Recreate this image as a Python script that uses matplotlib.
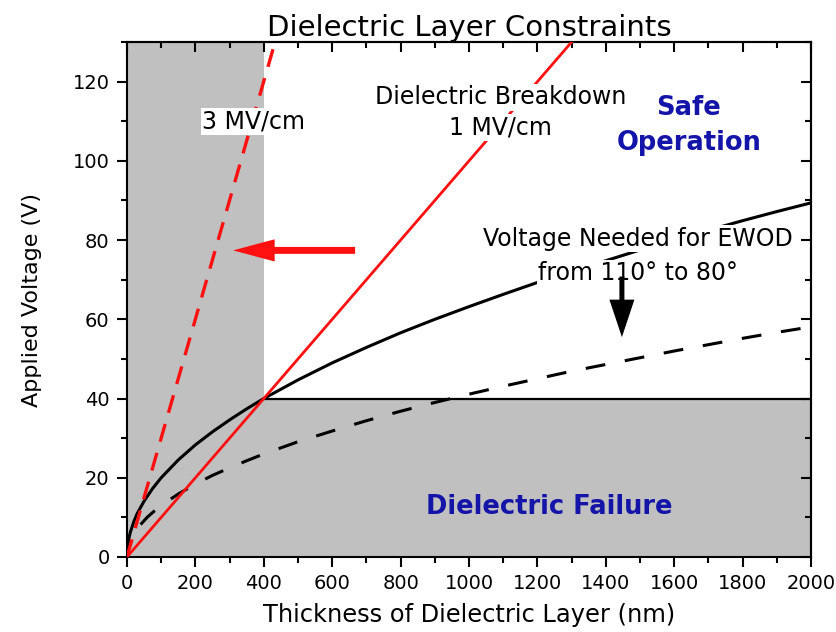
import matplotlib
matplotlib.use('Agg')
import matplotlib.pyplot as plt
from matplotlib.ticker import MultipleLocator

# ---- data (thickness in nm, voltage in V) ----
# dielectric breakdown lines
bd_1mv_thk = [0, 1300]
bd_1mv_volt = [0, 130]
bd_3mv_thk = [0, 433]
bd_3mv_volt = [0, 130]

# voltage needed for EWOD, 110 deg contact angle (solid)
ewod_thk = [0, 2, 5, 10, 20, 30, 50, 75, 100, 150, 200, 250, 300, 350, 400,
            500, 600, 700, 800, 900, 1000, 1100, 1200, 1300, 1400, 1500,
            1600, 1700, 1800, 1900, 2000]
ewod_volt = [0, 2.8, 4.5, 6.3, 8.9, 11.0, 14.1, 17.3, 20.0, 24.5, 28.3, 31.6, 34.6, 37.4, 40.0,
             44.7, 49.0, 52.9, 56.6, 60.0, 63.2, 66.3, 69.3, 72.1, 74.8, 77.5,
             80.0, 82.5, 84.9, 87.2, 89.4]

# voltage needed for EWOD, 80 deg contact angle (dashed)
ewod80_thk = [40, 60, 80, 100, 150, 200, 250, 300, 350, 400, 500, 600, 700, 800,
              900, 1000, 1100, 1200, 1300, 1400, 1500, 1600, 1700, 1800, 1900, 2000]
ewod80_volt = [8.2, 10.1, 11.6, 13.0, 15.9, 18.4, 20.6, 22.5, 24.3, 26.0, 29.1, 31.8, 34.4, 36.8,
               39.0, 41.1, 43.1, 45.0, 46.9, 48.6, 50.3, 52.0, 53.6, 55.2, 56.7, 58.1]

# failure regions
thin_limit = 400      # nm, left shaded band
volt_floor = 40       # V, bottom shaded band
x_max = 2000
y_max = 130

GRAY = '#c0c0c0'
BLUE = '#1414a8'
RED = '#ff1010'

fig = plt.figure(figsize=(8.37, 6.32), dpi=100)
ax = fig.add_axes([0.1517, 0.1187, 0.8173, 0.8148])

# shaded failure zones
ax.axvspan(0, thin_limit, color=GRAY, lw=0, zorder=0)
ax.fill_between([thin_limit, x_max], 0, volt_floor, color=GRAY, lw=0, zorder=0)
ax.plot([thin_limit, x_max], [volt_floor, volt_floor], color='black', lw=1.6, zorder=1)

# EWOD voltage curves
ax.plot(ewod_thk, ewod_volt, color='black', lw=2.2, solid_joinstyle='round', zorder=2)
ax.plot(ewod80_thk, ewod80_volt, color='black', lw=2.2, dashes=(6.5, 6.5), zorder=2)

# breakdown lines
ax.plot(bd_1mv_thk, bd_1mv_volt, color=RED, lw=2.0, zorder=3)
ax.plot(bd_3mv_thk, bd_3mv_volt, color=RED, lw=2.4, dashes=(5.5, 3.5), zorder=3)

ax.set_xlim(0, x_max)
ax.set_ylim(0, y_max)

# labels with white boxes
box = dict(facecolor='white', edgecolor='none', pad=1.0)
ax.text(371, 109.9, '3 MV/cm', fontsize=17, ha='center', va='center', bbox=box, zorder=4)
ax.text(1093, 116.0, 'Dielectric Breakdown', fontsize=17, ha='center', va='center', bbox=box, zorder=4)
ax.text(1093, 108.5, '1 MV/cm', fontsize=17, ha='center', va='center', bbox=box, zorder=4)
ax.text(1494, 80.4, 'Voltage Needed for EWOD', fontsize=17, ha='center', va='center', bbox=box, zorder=4)
ax.text(1494, 71.6, 'from 110° to 80°', fontsize=17, ha='center', va='center', bbox=box, zorder=4)

ax.text(1643, 113.4, 'Safe', fontsize=18.5, fontweight='bold', color=BLUE,
        ha='center', va='center', zorder=4)
ax.text(1643, 104.6, 'Operation', fontsize=18.5, fontweight='bold', color=BLUE,
        ha='center', va='center', zorder=4)
ax.text(1234, 12.6, 'Dielectric Failure', fontsize=18.5, fontweight='bold', color=BLUE,
        ha='center', va='center', zorder=4)

# arrows
ax.annotate('', xy=(310, 77.4), xytext=(667, 77.4),
            arrowprops=dict(arrowstyle='simple,head_length=30,head_width=16,tail_width=5',
                            mutation_scale=1, color=RED, lw=0, shrinkA=0, shrinkB=0), zorder=5)
ax.annotate('', xy=(1447, 55.5), xytext=(1447, 70.8),
            arrowprops=dict(arrowstyle='simple,head_length=27,head_width=18,tail_width=3.6',
                            mutation_scale=1, color='black', lw=0, shrinkA=0, shrinkB=0), zorder=5)

# axes styling
ax.set_title('Dielectric Layer Constraints', fontsize=21, pad=3)
ax.set_xlabel('Thickness of Dielectric Layer (nm)', fontsize=17.4, labelpad=7)
ax.set_ylabel('Applied Voltage (V)', fontsize=16, labelpad=22)

ax.xaxis.set_major_locator(MultipleLocator(200))
ax.xaxis.set_minor_locator(MultipleLocator(100))
ax.yaxis.set_major_locator(MultipleLocator(20))
ax.yaxis.set_minor_locator(MultipleLocator(10))
ax.tick_params(which='major', direction='out', length=7.5, width=1.5, labelsize=14, pad=5)
ax.tick_params(which='minor', direction='out', length=4, width=1.5)
for sp in ax.spines.values():
    sp.set_linewidth(1.5)

# inward ticks on top and right
top = ax.secondary_xaxis('top')
top.xaxis.set_major_locator(MultipleLocator(200))
top.xaxis.set_minor_locator(MultipleLocator(100))
top.tick_params(which='major', direction='in', length=7.5, width=1.5, labeltop=False)
top.tick_params(which='minor', direction='in', length=4, width=1.5)
top.spines['top'].set_linewidth(1.5)

right = ax.secondary_yaxis('right')
right.yaxis.set_major_locator(MultipleLocator(20))
right.yaxis.set_minor_locator(MultipleLocator(10))
right.tick_params(which='major', direction='in', length=7.5, width=1.5, labelright=False)
right.tick_params(which='minor', direction='in', length=4, width=1.5)
right.spines['right'].set_linewidth(1.5)

fig.savefig('out.png', dpi=100)
